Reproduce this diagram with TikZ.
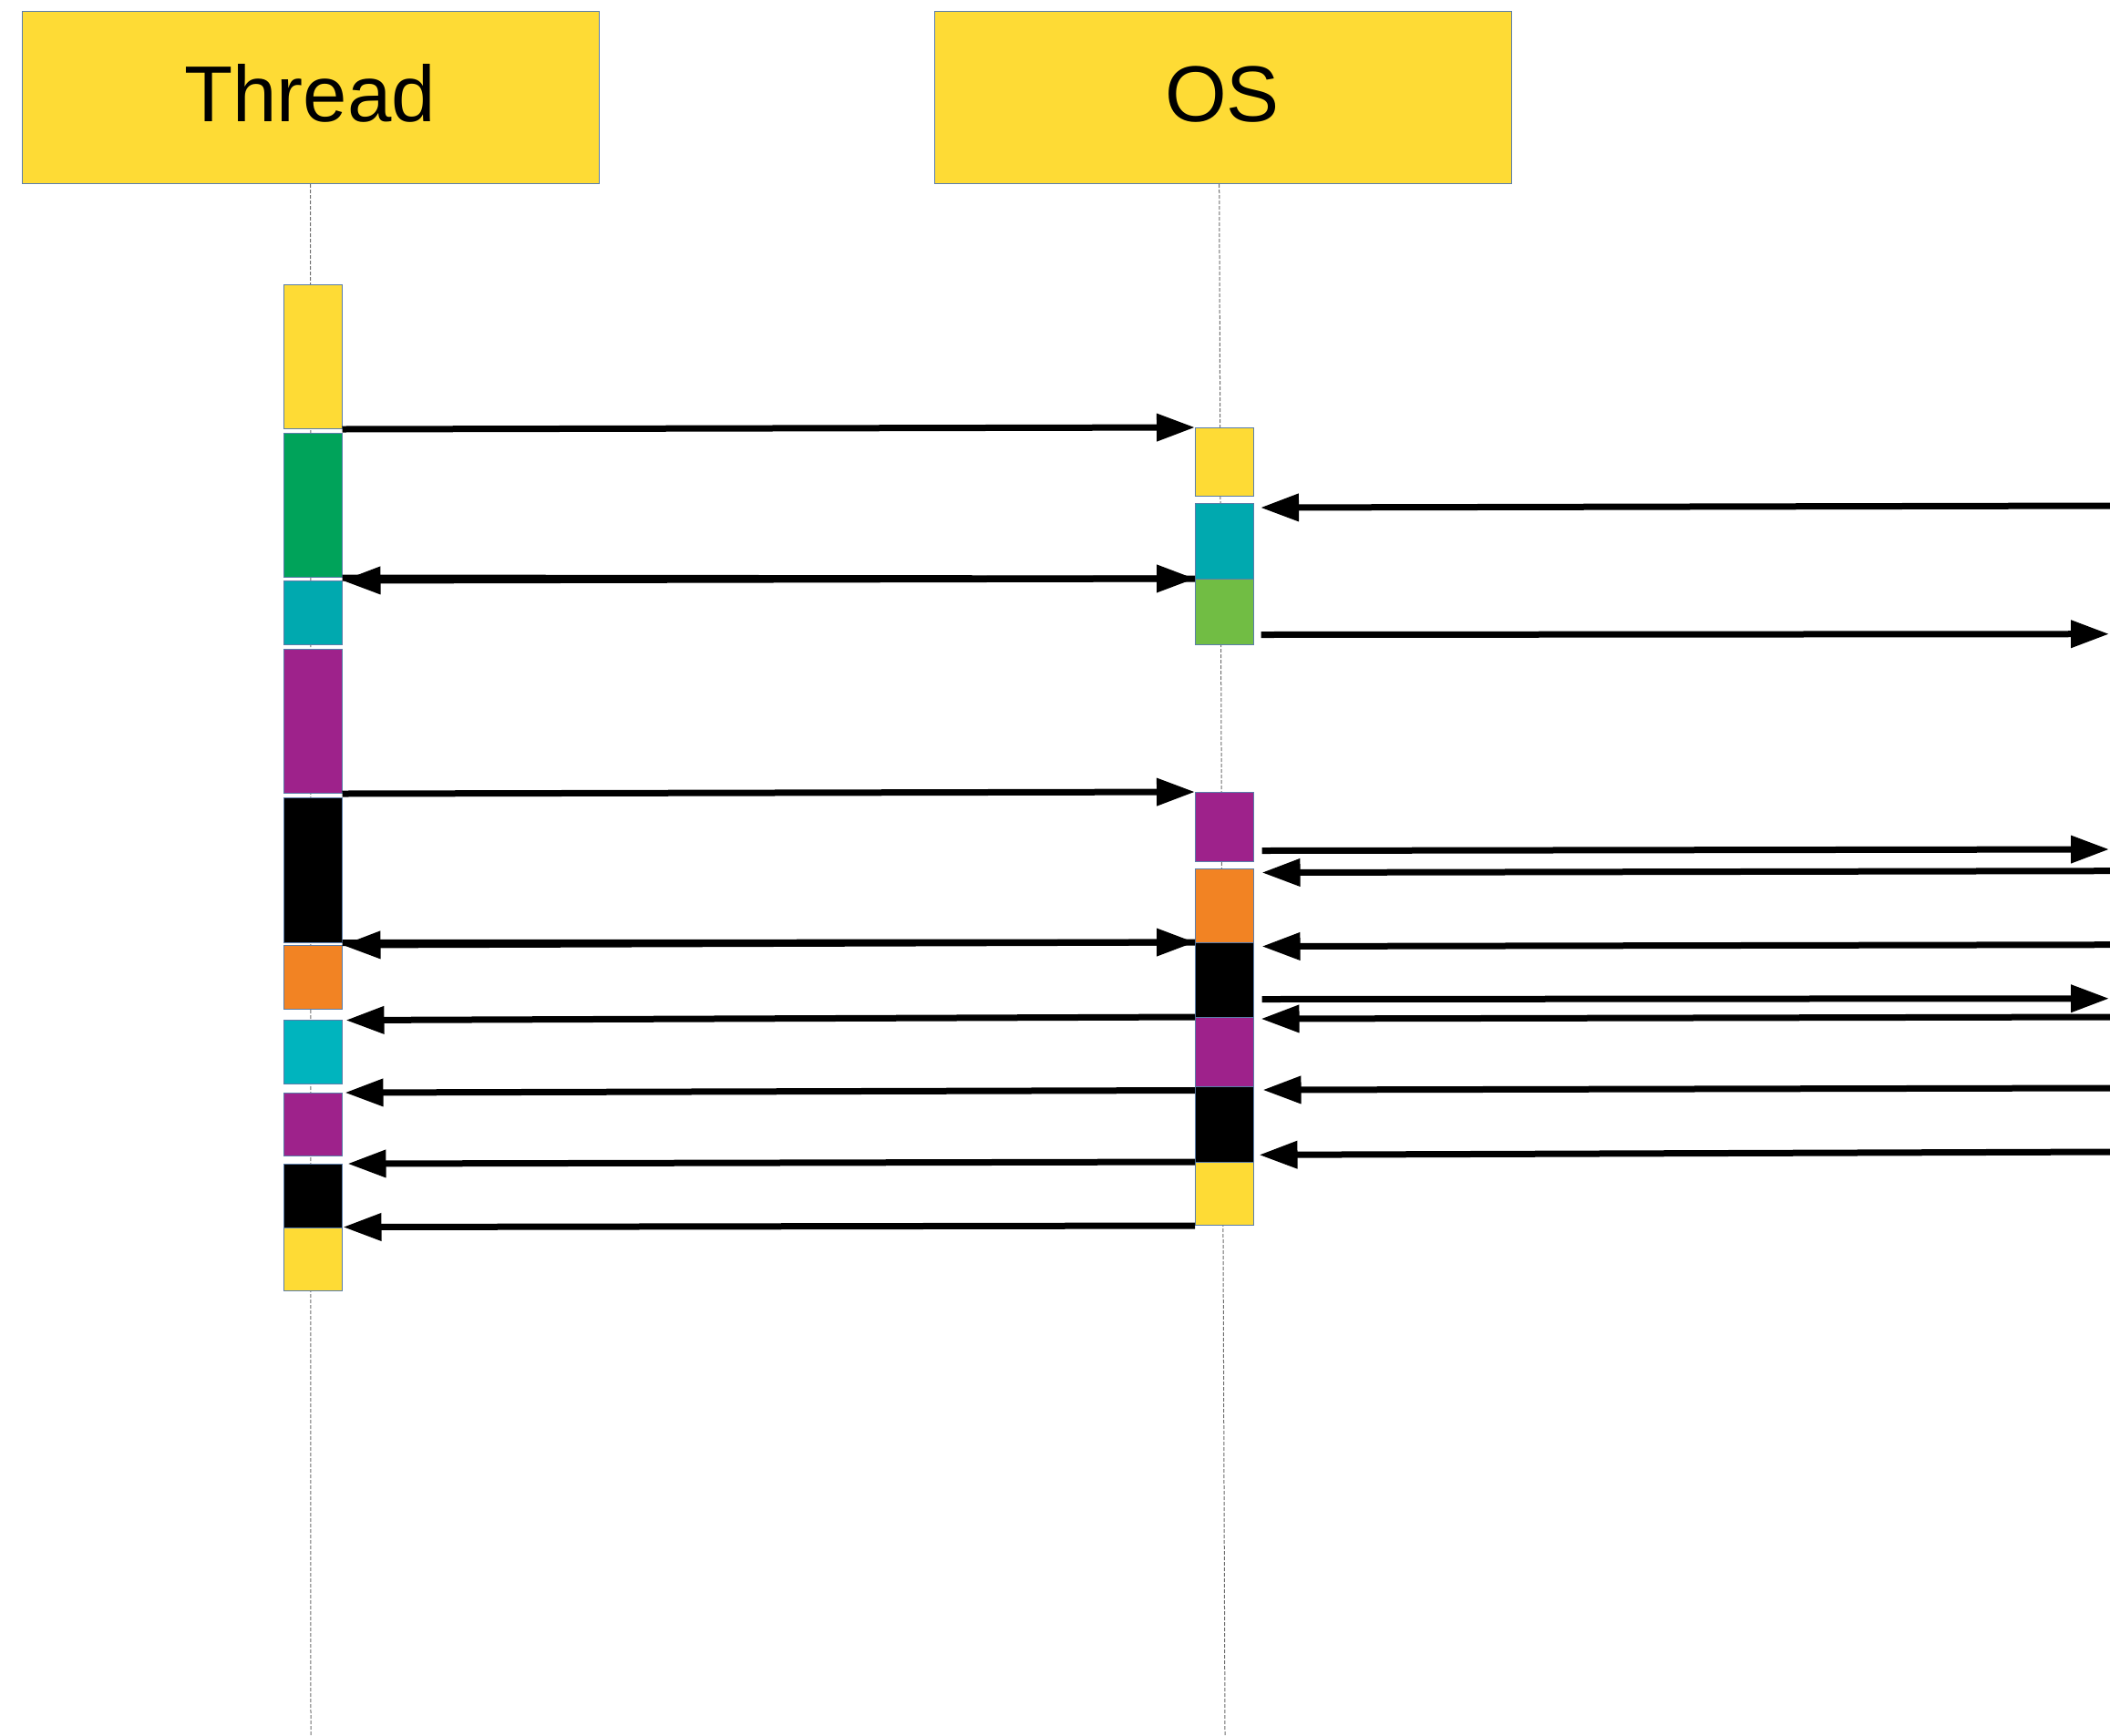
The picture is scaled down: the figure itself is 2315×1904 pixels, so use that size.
\documentclass[tikz,border=0pt]{standalone}
\usepackage{fontspec}
\setmainfont{Liberation Sans}
\usetikzlibrary{arrows.meta,calc}
\definecolor{cyel}{HTML}{FEDB35}
\definecolor{cgrn}{HTML}{00A35A}
\definecolor{cteal}{HTML}{00A9AF}
\definecolor{cpur}{HTML}{9E228B}
\definecolor{corg}{HTML}{F28323}
\definecolor{ccyan}{HTML}{00B4BE}
\definecolor{clgrn}{HTML}{71BD44}
\definecolor{cblk}{HTML}{000000}
\definecolor{cbord}{HTML}{5A7DAA}
\definecolor{clife}{HTML}{6E6E6E}
\begin{document}
\begin{tikzpicture}[x=1pt,y=-1pt,
  header/.style={draw=cbord,line width=1.2pt,fill=cyel,minimum width=633pt,minimum height=189pt,inner sep=0pt,anchor=north west},
  hdrtext/.style={font=\fontsize{87}{100}\selectfont,anchor=base,inner sep=0pt},
  act/.style={draw=cbord,line width=1pt,minimum width=63.5pt,inner sep=0pt,anchor=north west,fill=#1},
  life/.style={draw=clife,line width=1pt,dash pattern=on 4pt off 2pt},
  msg/.style={line width=7pt,-{Triangle[length=42pt,width=29pt]}},
  ]
\useasboundingbox (0,0) rectangle (2315,1904);
\fill[white] (0,0) rectangle (2315,1904);

% headers
\node[header] (thread) at (23.6,11.8) {};
\node[header] (os) at (1024.6,11.8) {};
\node[hdrtext] (threadlbl) at (340,133) {Thread};
\node[hdrtext] (oslbl) at (1341,133) {OS};

% lifelines
\coordinate (tend) at (341,1904);
\coordinate (oend) at (1344,1904);
\draw[life] (thread.south) -- (tend);
\draw[life] ($(os.south)+(-4,0)$) -- (oend);

% Thread activation boxes
\node[act=cyel,  minimum height=158pt]   (t1)  at (311,312) {};
\node[act=cgrn,  minimum height=158pt]   (t2)  at (311,475) {};
\node[act=cteal, minimum height=70pt]    (t3)  at (311,637) {};
\node[act=cpur,  minimum height=158pt]   (t4)  at (311,712) {};
\node[act=cblk,  minimum height=159pt]   (t5)  at (311,874.5) {};
\node[act=corg,  minimum height=70pt]    (t6)  at (311,1037) {};
\node[act=ccyan, minimum height=70pt]    (t7)  at (311,1119) {};
\node[act=cpur,  minimum height=69pt]    (t8)  at (311,1199) {};
\node[act=cblk,  minimum height=69.5pt]  (t9)  at (311,1277) {};
\node[act=cyel,  minimum height=69.5pt]  (t10) at (311,1346.5) {};

% OS activation boxes
\node[act=cyel,  minimum height=75pt] (o1) at (1311,469) {};
\node[act=cteal, minimum height=83pt] (o2) at (1311,552) {};
\node[act=clgrn, minimum height=72pt] (o3) at (1311,635) {};
\node[act=cpur,  minimum height=76pt] (o4) at (1311,869) {};
\node[act=corg,  minimum height=81pt] (o5) at (1311,953) {};
\node[act=cblk,  minimum height=82pt] (o6) at (1311,1034) {};
\node[act=cpur,  minimum height=76pt] (o7) at (1311,1116) {};
\node[act=cblk,  minimum height=83pt] (o8) at (1311,1192) {};
\node[act=cyel,  minimum height=69pt] (o9) at (1311,1275) {};

% free ends at the right edge
\coordinate (r2)  at (2315,555);
\coordinate (r4)  at (2314,695.7);
\coordinate (r6)  at (2314,932);
\coordinate (r7)  at (2315,955.7);
\coordinate (r9)  at (2315,1036.7);
\coordinate (r10) at (2314,1095.7);
\coordinate (r11) at (2315,1116);
\coordinate (r13) at (2315,1194);
\coordinate (r15) at (2315,1264);

% messages
\draw[msg] (t1.south east) -- (o1.north west);
\draw[msg] (r2) -- ($(o2.north east)+(7.5,5)$);
\draw[msg] (t2.south east) -- (o3.north west);
\draw[msg] (o3.north west) -- (t3.north east);
\draw[msg] ($(o3.south east)+(8,-11.5)$) -- (r4);
\draw[msg] (t4.south east) -- (o4.north west);
\draw[msg] ($(o4.south east)+(9,-12.5)$) -- (r6);
\draw[msg] (r7) -- ($(o5.north east)+(9,4.5)$);
\draw[msg] (t5.south east) -- (o6.north west);
\draw[msg] (o6.north west) -- (t6.north east);
\draw[msg] (r9) -- ($(o6.north east)+(9,4.5)$);
\draw[msg] ($(o6.south east)+(9,-20.5)$) -- (r10);
\draw[msg] (r11) -- ($(o7.north east)+(8,2)$);
\draw[msg] (o7.north west) -- ($(t7.north east)+(4,0.5)$);
\draw[msg] (r13) -- ($(o8.north east)+(10,4)$);
\draw[msg] ($(o8.north west)+(0,4.5)$) -- ($(t8.north east)+(3,0)$);
\draw[msg] (r15) -- ($(o8.south east)+(6,-8.7)$);
\draw[msg] (o9.north west) -- ($(t9.north east)+(6,0)$);
\draw[msg] (o9.south west) -- ($(t10.north east)+(1,0)$);
\end{tikzpicture}
\end{document}
